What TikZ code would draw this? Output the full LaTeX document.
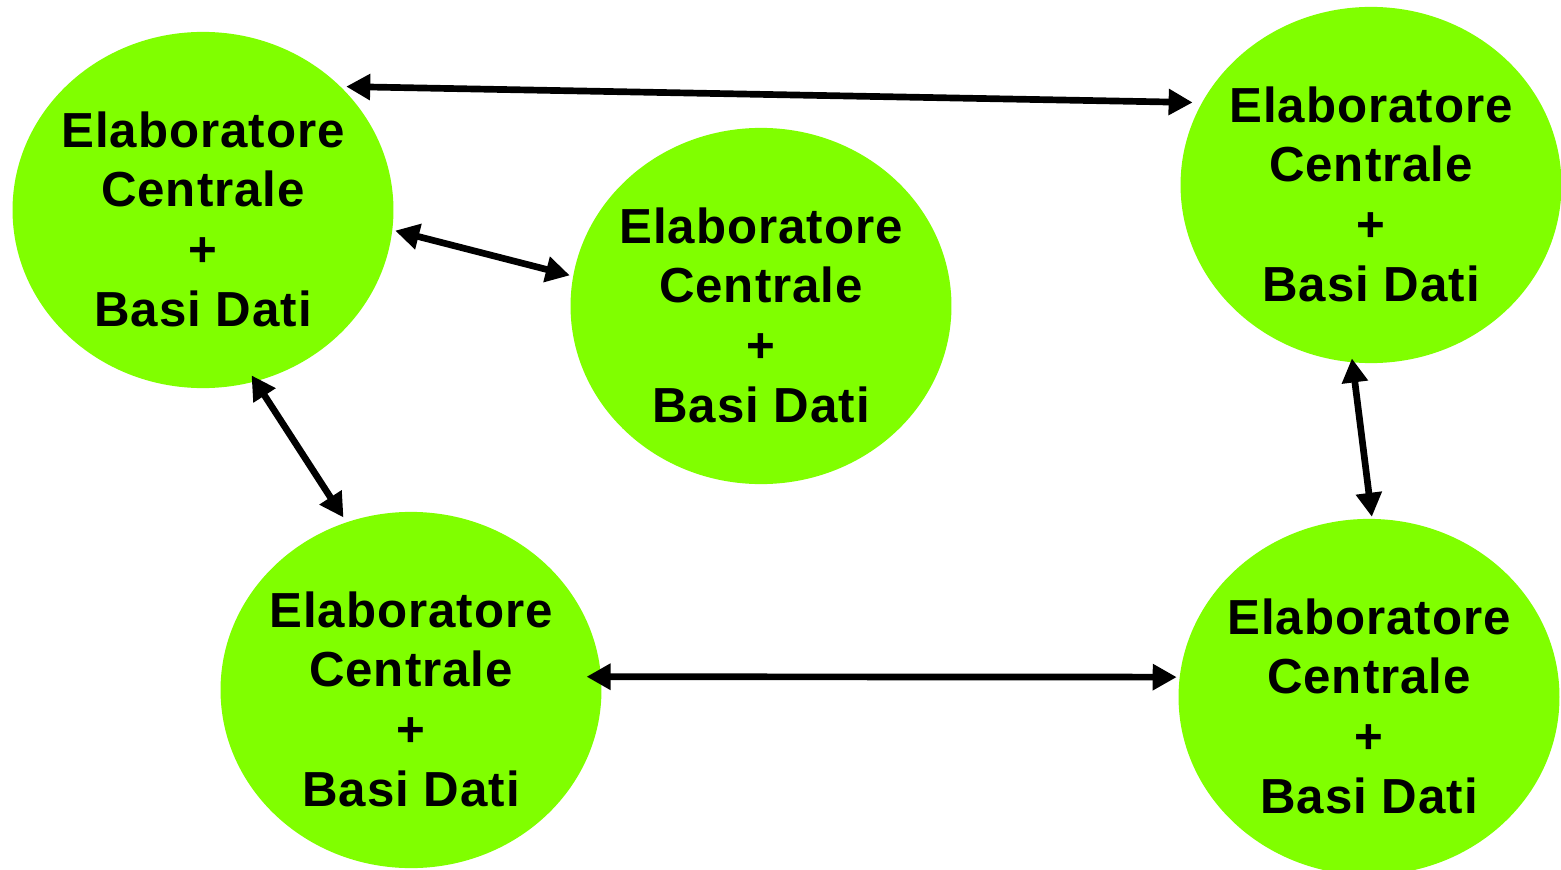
\documentclass[tikz,border=0pt]{standalone}
\usepackage{fontspec}
\setmainfont{Liberation Sans}[LetterSpace=2]
\usepackage{tikz}
\usetikzlibrary{arrows.meta}
\usetikzlibrary{shapes.geometric}
\definecolor{elabgreen}{RGB}{128,255,0}

\begin{document}
\begin{tikzpicture}[x=0.01cm,y=-0.01cm,
  elab/.style={ellipse,fill=elabgreen,minimum width=3.8cm,minimum height=3.56cm,
    inner xsep=-2pt,inner ysep=0pt,outer sep=0pt,align=center,
    font=\fontsize{14}{17}\selectfont\bfseries},
  link/.style={line width=1.9pt,
    {Triangle[length=2.4mm,width=2.5mm]}-{Triangle[length=2.4mm,width=2.5mm]}}]
\useasboundingbox (0,0) rectangle (1561,870);

\node [elab] (a) at (203,210) {\rule{0pt}{0.54cm}Elaboratore\\Centrale\\+\\Basi Dati};
\node [elab] (b) at (761,306) {\rule{0pt}{0.54cm}Elaboratore\\Centrale\\+\\Basi Dati};
\node [elab] (c) at (1371,185) {\rule{0pt}{0.54cm}Elaboratore\\Centrale\\+\\Basi Dati};
\node [elab] (d) at (411,690) {\rule{0pt}{0.54cm}Elaboratore\\Centrale\\+\\Basi Dati};
\node [elab] (e) at (1369,697) {\rule{0pt}{0.54cm}Elaboratore\\Centrale\\+\\Basi Dati};

\draw [link,shorten <=1.7pt,shorten >=2.7pt] (a.42) -- (c.154);
\draw [link,shorten <=0.85pt,shorten >=1pt] (a.-6) -- (b.171);
\draw [link,shorten <=-2pt,shorten >=1.65pt] (a.-73) -- (d.111);
\draw [link,shorten <=-1.1pt,shorten >=0.6pt] (c.-96) -- (e.89);
\draw [link,shorten <=-4.1pt,shorten >=0.85pt] (d.4) -- (e.174);
\end{tikzpicture}
\end{document}
